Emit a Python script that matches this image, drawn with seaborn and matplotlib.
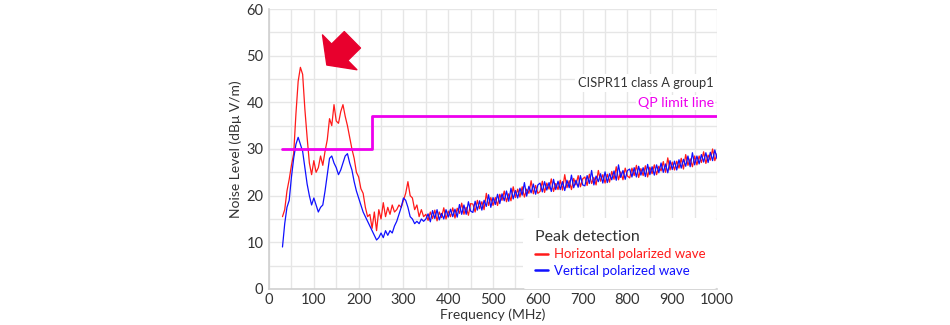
import numpy as np
import pandas as pd
import matplotlib
matplotlib.use("Agg")
import matplotlib.pyplot as plt
from matplotlib.ticker import MultipleLocator
import seaborn as sns

# ---------------- data ----------------
freq_mhz = list(range(30, 1001, 5))

horizontal_db = [
    # 30 - 350 MHz
    15.5, 17.0, 21.0, 23.5, 26.5, 29.0, 37.5, 44.5, 47.5, 46.0,
    38.5, 32.5, 27.0, 24.5, 27.5, 25.0, 26.0, 28.5, 26.5, 29.5,
    32.0, 36.5, 35.0, 39.5, 36.0, 35.5, 38.0, 39.5, 37.0, 35.0,
    32.5, 30.0, 28.0, 25.0, 24.0, 21.5, 20.5, 17.5, 15.5, 16.0,
    13.0, 16.5, 12.5, 17.0, 15.0, 18.5, 15.5, 17.5, 16.0, 18.0,
    16.5, 17.0, 18.0, 17.5, 19.0, 20.5, 23.0, 20.0, 19.5, 17.0,
    18.0, 15.5, 17.0, 15.5, 16.0,
    # 355 - 1000 MHz
    14.7, 16.5, 15.1, 16.9, 14.6, 16.5, 15.3, 17.4, 15.0, 16.7,
    15.5, 17.4, 15.2, 17.3, 16.2, 18.4, 16.0, 17.5, 15.8, 18.3,
    18.2, 16.5, 19.0, 17.2, 18.7, 17.0, 20.5, 17.9, 19.6, 17.9,
    19.6, 17.9, 20.3, 19.0, 21.0, 18.7, 20.4, 18.9, 21.9, 19.6,
    21.4, 19.7, 21.9, 19.7, 21.4, 20.5, 23.2, 20.4, 22.2, 20.5,
    20.9, 23.1, 20.7, 22.7, 21.4, 23.6, 20.9, 22.6, 21.3, 23.3,
    21.2, 24.5, 21.7, 23.2, 21.3, 23.7, 22.3, 24.3, 21.9, 23.6,
    24.0, 22.2, 24.6, 22.6, 23.9, 22.3, 25.4, 23.1, 24.5, 22.7,
    24.6, 22.9, 25.2, 23.5, 26.2, 23.4, 25.1, 23.4, 25.9, 24.2,
    23.8, 25.9, 24.3, 26.5, 23.9, 25.8, 24.3, 26.4, 24.0, 26.1,
    24.7, 26.6, 24.5, 26.3, 25.3, 27.3, 25.0, 28.1, 25.5, 27.2,
    25.5, 27.4, 25.9, 28.0, 25.7, 28.8, 26.5, 27.9, 26.2, 28.5,
    26.6, 28.5, 27.1, 29.4, 26.9, 28.7, 27.6, 30.0, 27.5, 29.0,
]

vertical_db = [
    # 30 - 350 MHz
    9.0, 14.0, 17.5, 19.0, 24.0, 28.0, 31.0, 32.5, 31.0, 29.5,
    26.0, 22.5, 20.0, 18.0, 19.5, 18.0, 16.5, 17.5, 18.0, 21.0,
    24.5, 28.0, 28.5, 27.0, 26.0, 24.5, 25.5, 27.0, 28.5, 29.0,
    27.0, 25.5, 23.0, 21.0, 19.5, 18.0, 16.5, 15.5, 14.5, 13.5,
    12.5, 11.5, 10.5, 11.0, 12.0, 11.0, 12.5, 11.5, 12.5, 12.0,
    13.5, 14.5, 16.0, 17.5, 19.5, 19.0, 17.5, 15.5, 15.0, 14.0,
    14.5, 14.0, 15.0, 14.5, 15.0,
    # 355 - 1000 MHz
    16.1, 14.4, 16.8, 15.1, 17.0, 14.8, 16.2, 15.0, 17.0, 15.4,
    17.1, 15.5, 17.1, 15.4, 18.1, 16.0, 18.0, 16.0, 18.7, 16.7,
    16.4, 18.8, 16.9, 18.9, 16.9, 19.0, 17.7, 20.2, 17.5, 19.6,
    18.1, 20.3, 18.3, 20.4, 18.9, 21.0, 18.8, 21.6, 19.3, 21.1,
    19.5, 21.6, 20.1, 22.8, 19.9, 22.0, 20.6, 22.5, 20.3, 22.3,
    22.7, 20.8, 23.0, 21.2, 22.8, 20.9, 23.5, 21.3, 23.1, 21.3,
    23.0, 21.1, 23.3, 21.7, 24.4, 21.7, 23.3, 21.8, 24.3, 22.3,
    22.1, 24.3, 22.6, 25.4, 22.3, 24.2, 23.0, 24.7, 22.7, 25.1,
    22.8, 24.7, 23.4, 25.3, 23.3, 26.6, 23.9, 25.4, 23.5, 25.4,
    25.7, 24.0, 26.0, 24.0, 26.3, 24.4, 26.0, 24.1, 26.7, 24.5,
    26.2, 24.4, 26.6, 24.9, 27.0, 25.0, 26.8, 24.9, 27.5, 25.6,
    27.4, 25.5, 27.7, 25.9, 27.8, 26.3, 28.5, 26.2, 29.2, 26.6,
    28.5, 26.8, 28.8, 27.2, 29.2, 27.1, 29.3, 27.5, 29.8, 27.9,
]

limit_freq = [30, 230, 230, 1000]
limit_db = [30, 30, 37, 37]

series_names = ["Horizontal polarized wave", "Vertical polarized wave"]
x_ticks = list(range(0, 1001, 100))
y_ticks = list(range(0, 61, 10))

# ---------------- styling ----------------
sns.set_theme(style="white")
plt.rcParams["font.family"] = ["Lato", "DejaVu Sans"]
text_col = "#333333"
red = "#ff1a1a"
blue = "#1010ff"
magenta = "#ee00ee"

df = pd.DataFrame({
    "freq": freq_mhz * 2,
    "level": horizontal_db + vertical_db,
    "pol": [series_names[0]] * len(freq_mhz) + [series_names[1]] * len(freq_mhz),
})

fig = plt.figure(figsize=(9.5, 3.25), dpi=100)
ax = fig.add_axes([0.2832, 0.1108, 0.4716, 0.8615])

sns.lineplot(data=df, x="freq", y="level", hue="pol",
             palette={series_names[0]: red, series_names[1]: blue},
             linewidth=0.9, ax=ax, estimator=None, sort=True)

ax.plot(limit_freq, limit_db, color=magenta, linewidth=2.0, zorder=4)

ax.set_xlim(0, 1000)
ax.set_ylim(0, 60)
ax.set_xticks(x_ticks)
ax.set_yticks(y_ticks)
ax.xaxis.set_minor_locator(MultipleLocator(50))
ax.yaxis.set_minor_locator(MultipleLocator(5))
ax.grid(True, which="both", color="#e6e6e6", linewidth=1.0)
ax.set_axisbelow(True)
ax.tick_params(axis="both", which="both", length=0, labelsize=10.5,
               colors=text_col)
ax.tick_params(axis="x", pad=3)
ax.tick_params(axis="y", pad=4)
for s in ["top", "right"]:
    ax.spines[s].set_visible(False)
for s in ["left", "bottom"]:
    ax.spines[s].set_color("#d0d0d0")
    ax.spines[s].set_linewidth(1.2)

ax.set_xlabel("Frequency (MHz)", fontsize=10, color=text_col, labelpad=1)
ax.set_ylabel("Noise Level (dBμ V/m)", fontsize=10, color=text_col, labelpad=3)

# annotations
ax.text(993, 44.1, "CISPR11 class A group1", ha="right", va="center",
        fontsize=9.3, color=text_col, zorder=5,
        bbox=dict(facecolor="white", edgecolor="none", pad=2))
ax.text(993, 39.9, "QP limit line", ha="right", va="center",
        fontsize=10.2, color=magenta, zorder=5,
        bbox=dict(facecolor="white", edgecolor="none", pad=1))

# red arrow pointing at the peaks
ax.annotate("", xy=(129, 48.0), xytext=(186, 53.4),
            arrowprops=dict(arrowstyle="simple,head_length=0.65,head_width=1.76,tail_width=0.83",
                            color="#e8002d", mutation_scale=20,
                            shrinkA=0, shrinkB=0), zorder=6)

leg = ax.legend(title="Peak detection", loc="lower right",
                frameon=True, facecolor="white", edgecolor="none",
                framealpha=1.0, fontsize=9.5, title_fontsize=11.5,
                labelcolor="linecolor", handlelength=1.0, handletextpad=0.4,
                borderaxespad=0.0, borderpad=0.9, labelspacing=0.35)
leg._legend_box.align = "left"
leg.get_title().set_color(text_col)
leg.set_zorder(7)
for h in leg.legend_handles:
    h.set_linewidth(1.8)

fig.savefig("out.png", dpi=100)
